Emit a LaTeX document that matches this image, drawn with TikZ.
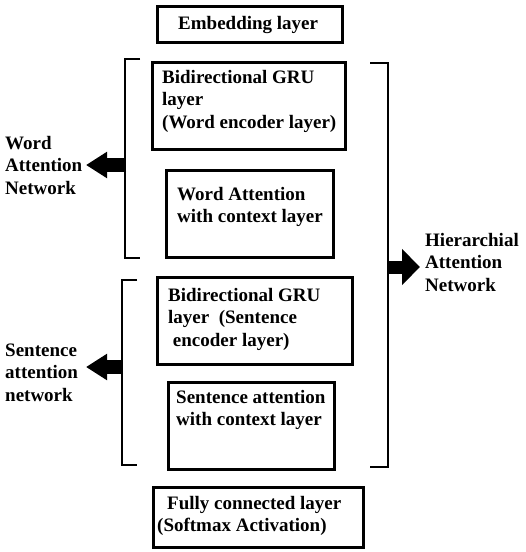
\documentclass[tikz,border=0pt]{standalone}
\usepackage{fontspec}
\setmainfont{Liberation Serif}
\usetikzlibrary{arrows.meta}
\begin{document}
\begin{tikzpicture}[x=1pt,y=-1pt,
  box/.style={draw,line width=3pt,inner sep=0pt},
  txt/.style={inner sep=0pt,align=left,anchor=base west,font=\fontsize{19}{22.5}\selectfont\bfseries},
  brk/.style={line width=2.8pt},
  blockl/.style={line width=14pt,-{Triangle[length=21pt,width=25pt]}},
  blockr/.style={line width=13pt,-{Triangle[length=18pt,width=35pt]}}]
\useasboundingbox (0,0) rectangle (526,552);
% boxes
\draw[box] (157,6) rectangle (342,42) node[pos=0.5,inner sep=0] (emb) {};
\draw[box] (152,62) rectangle (345,149) node[pos=0.5,inner sep=0] (wgru) {};
\draw[box] (166,170) rectangle (333,257) node[pos=0.5,inner sep=0] (watt) {};
\draw[box] (157,277) rectangle (352,364) node[pos=0.5,inner sep=0] (sgru) {};
\draw[box] (168,382) rectangle (334,469) node[pos=0.5,inner sep=0] (satt) {};
\draw[box] (153,487) rectangle (363,547) node[pos=0.5,inner sep=0] (fc) {};
% texts (anchor = baseline of the last line)
\node[txt] (embT) at (178,29) {Embedding layer};
\node[txt] (wgruT) at (162,128) {Bidirectional GRU\\layer\\(Word encoder layer)};
\node[txt] (wattT) at (177,222.5) {Word Attention\\with context layer};
\node[txt] (sgruT) at (168,346) {Bidirectional GRU\\layer\ \ (Sentence\\\ encoder layer)};
\node[txt] (sattT) at (176,425.5) {Sentence attention\\with context layer};
\node[txt] (fcT) at (167,509) {Fully connected layer};
\node[txt] (fcT2) at (157,531) {(Softmax Activation)};
\node[txt] (wnet) at (5,194) {Word\\Attention\\Network};
\node[txt] (snet) at (5,401) {Sentence\\attention\\network};
\node[txt] (han) at (425,291) {Hierarchial\\Attention\\Network};
% brackets
\draw[brk] (140,59) -- (125,59) -- (125,258) -- (140,258);
\draw[brk] (137,280) -- (122,280) -- (122,465) -- (137,465);
\draw[brk] (370,63) -- (388,63) -- (388,467) -- (370,467);
\coordinate (wb) at (126,165);
\coordinate (wtip) at (86,165);
\coordinate (sb) at (123,367);
\coordinate (stip) at (86,367);
\coordinate (hb) at (387,267);
\coordinate (htip) at (420,267);
% arrows
\draw[blockl] (wb) -- (wtip);
\draw[blockl] (sb) -- (stip);
\draw[blockr] (hb) -- (htip);
\end{tikzpicture}
\end{document}
